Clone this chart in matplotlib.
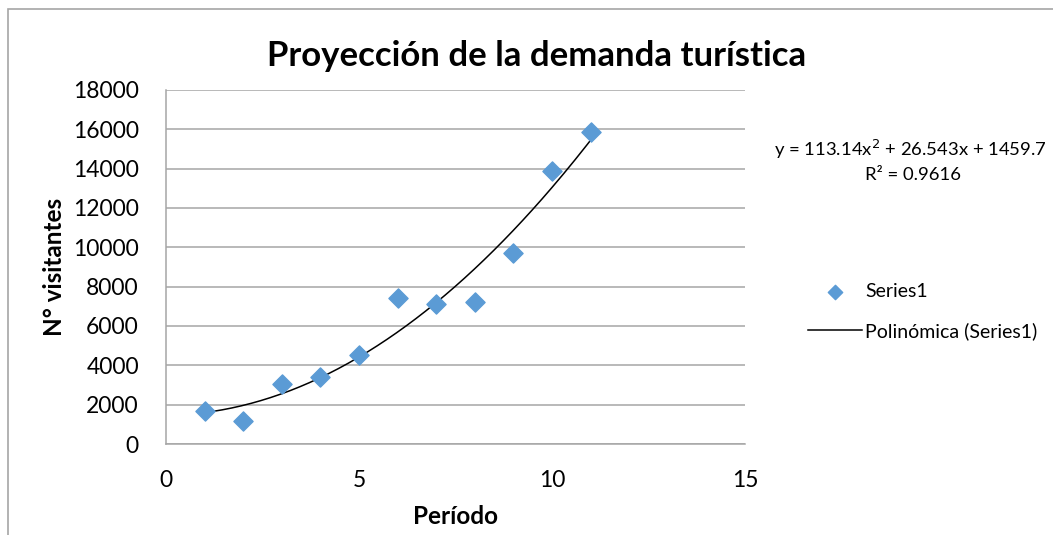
import matplotlib.pyplot as plt
import matplotlib.patches as patches
import numpy as np

plt.rcParams['font.family'] = ['Lato', 'DejaVu Sans']

# datos
periodo = [1, 2, 3, 4, 5, 6, 7, 8, 9, 10, 11]
visitantes = [1660, 1190, 3040, 3430, 4510, 7440, 7100, 7240, 9730, 13900, 15860]

# coeficientes de la linea de tendencia (del texto del grafico)
coef = [113.14, 26.543, 1459.7]
ecuacion = 'y = 113.14x$^2$ + 26.543x + 1459.7'
r2_texto = 'R² = 0.9616'

fig = plt.figure(figsize=(10.53, 5.35), dpi=100)
ax = fig.add_axes([0.1576, 0.170, 0.5499, 0.662])

# borde del area del grafico
fig.patches.append(patches.Rectangle((0.0076, -0.1), 1.2, 1.083, transform=fig.transFigure,
                                     fill=False, edgecolor='#a6a6a6', linewidth=1.2))

xs = np.linspace(periodo[0], periodo[-1], 200)
ax.scatter(periodo, visitantes, marker='D', s=95, color='#5b9bd5', zorder=3, label='Series1')
ax.plot(xs, np.polyval(coef, xs), color='black', linewidth=1.1, zorder=2, label='Polinómica (Series1)')

ax.set_xlim(0, 15)
ax.set_ylim(0, 18000)
ax.set_xticks([0, 5, 10, 15])
ax.set_yticks(range(0, 18001, 2000))
ax.yaxis.grid(True, color='#a6a6a6', linewidth=1.1)
ax.set_axisbelow(True)
for s in ['top', 'right']:
    ax.spines[s].set_visible(False)
for s in ['left', 'bottom']:
    ax.spines[s].set_color('#a6a6a6')
    ax.spines[s].set_linewidth(1.1)
ax.tick_params(axis='both', length=0, labelsize=16.5)
ax.tick_params(axis='y', pad=19.5)
ax.tick_params(axis='x', pad=19)

fig.text(0.51, 0.895, 'Proyección de la demanda turística', fontsize=25, fontweight='bold',
         ha='center', va='center')
ax.set_xlabel('Período', fontsize=17.5, fontweight='bold', labelpad=10)
ax.set_ylabel('N° visitantes', fontsize=17.5, fontweight='bold', labelpad=5)

fig.text(0.865, 0.72, ecuacion, fontsize=13.3, ha='center', va='center')
fig.text(0.867, 0.673, r2_texto, fontsize=13.3, ha='center', va='center')

leg = ax.legend(loc='center left', bbox_to_anchor=(1.078, 0.374), frameon=False, fontsize=14,
                handlelength=2.8, labelspacing=1.1, handletextpad=0.15, markerscale=0.75)

fig.savefig('out.png', dpi=100)
